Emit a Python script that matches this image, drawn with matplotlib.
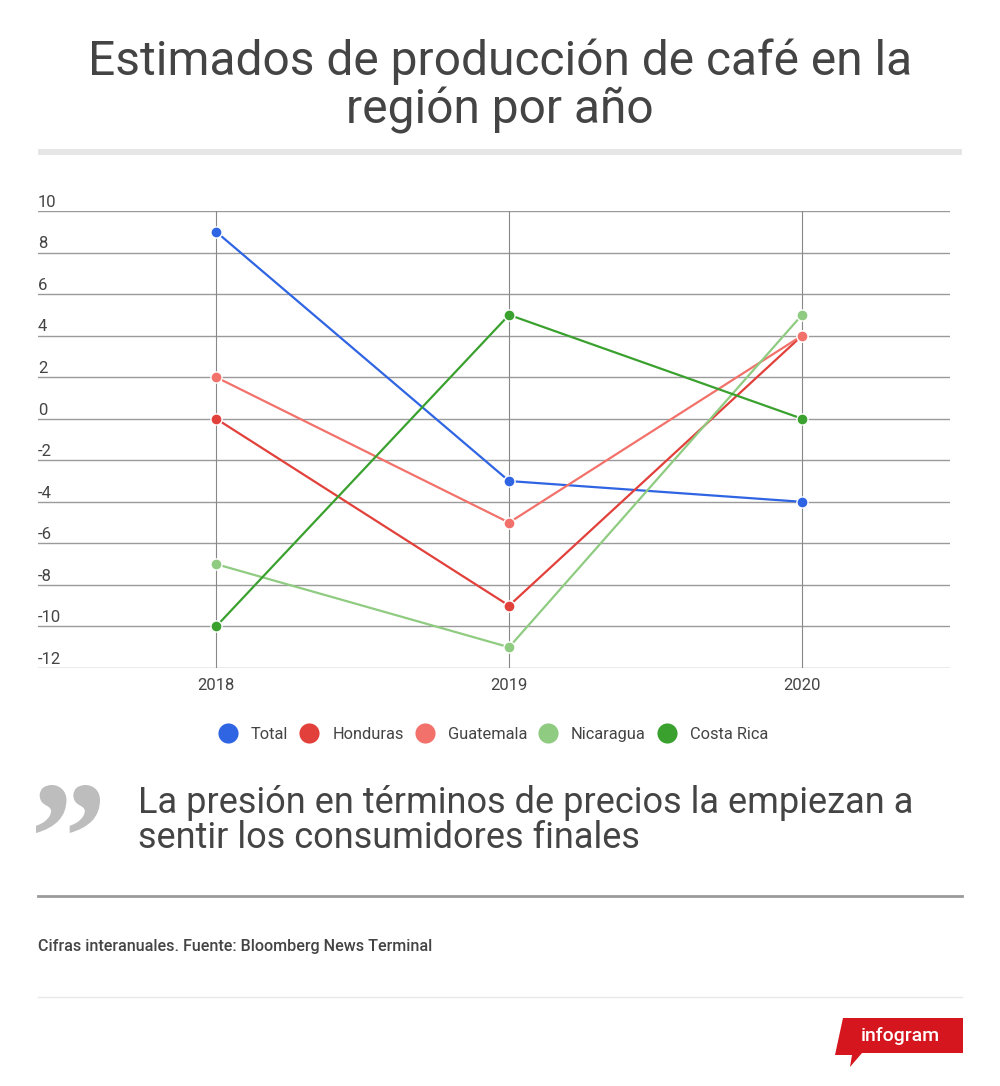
import matplotlib.pyplot as plt
from matplotlib.lines import Line2D
from matplotlib.patches import Polygon, Rectangle, PathPatch
from matplotlib.textpath import TextPath
from matplotlib.font_manager import FontProperties
from matplotlib.transforms import Affine2D

plt.rcParams['font.family'] = ['Roboto', 'DejaVu Sans']

# Data
years = ['2018', '2019', '2020']
total = [9, -3, -4]
honduras = [0, -9, 4]
guatemala = [2, -5, 4]
nicaragua = [-7, -11, 5]
costa_rica = [-10, 5, 0]
y_ticks = [10, 8, 6, 4, 2, 0, -2, -4, -6, -8, -10, -12]

series = [
    ('Total', total, '#2f64e3'),
    ('Honduras', honduras, '#e2403a'),
    ('Guatemala', guatemala, '#f2726b'),
    ('Nicaragua', nicaragua, '#8fcb80'),
    ('Costa Rica', costa_rica, '#3aa12f'),
]

W, H = 1000, 1086
fig = plt.figure(figsize=(W / 100, H / 100), dpi=100)


def fx(x):
    return x / W


def fy(y):
    return 1 - y / H


# Title
fig.text(0.5, fy(62), 'Estimados de producción de café en la', ha='center', va='center',
         fontsize=34.5, color='#444444')
fig.text(0.5, fy(110), 'región por año', ha='center', va='center',
         fontsize=34.5, color='#444444')
fig.add_artist(Rectangle((fx(38), fy(155)), fx(962) - fx(38), 6 / H,
                         transform=fig.transFigure, color='#e6e6e6', lw=0))

# Chart
ax = fig.add_axes([fx(38), fy(668), fx(950) - fx(38), (668 - 211) / H])
x = list(range(len(years)))
for name, vals, col in series:
    ax.plot(x, vals, color=col, lw=1.6, marker='o', markersize=8,
            markeredgecolor='white', markeredgewidth=1.0, zorder=3)

ax.set_xlim(-0.608, 2.505)
ax.set_ylim(-12, 10)
for s in ax.spines.values():
    s.set_visible(False)
for t in y_ticks:
    ax.axhline(t, color='#9a9a9a', lw=1.0, zorder=1)
    ax.text(0, t + 0.2, str(t), transform=ax.get_yaxis_transform(),
            ha='left', va='baseline', fontsize=12, color='#444444')
for xi in x:
    ax.axvline(xi, color='#888888', lw=0.8, zorder=1)
ax.set_yticks([])
ax.set_xticks(x)
ax.set_xticklabels(years, fontsize=12, color='#444444')
ax.tick_params(axis='x', length=0, pad=7)

# Legend (laid out by hand, left to right)
renderer = fig.canvas.get_renderer()
lx = 218
for name, vals, col in series:
    fig.add_artist(Line2D([fx(lx + 10)], [fy(733)], ls='none', marker='o',
                          markersize=14.5, color=col, markeredgewidth=0))
    txt = fig.text(fx(lx + 33), fy(739), name, ha='left', va='baseline',
                   fontsize=11.8, color='#444444')
    w = txt.get_window_extent(renderer).width
    lx = lx + 33 + w + 11

# Quote mark, fitted into its box
qp = TextPath((0, 0), '\u201d', prop=FontProperties(family='Liberation Serif', weight='bold'))
ext = qp.get_extents()
bx0, by0, bx1, by1 = 36, 785, 100, 833
tr = (Affine2D().translate(-ext.x0, -ext.y0)
      .scale((bx1 - bx0) / ext.width, (by1 - by0) / ext.height)
      .translate(bx0, H - by1)
      .scale(1 / W, 1 / H))
fig.add_artist(PathPatch(qp, transform=tr + fig.transFigure, color='#bdbdbd', lw=0))

fig.text(fx(138), fy(803), 'La presión en términos de precios la empiezan a',
         ha='left', va='center', fontsize=26, color='#444444')
fig.text(fx(138), fy(838), 'sentir los consumidores finales',
         ha='left', va='center', fontsize=26, color='#444444')

fig.add_artist(Line2D([fx(38), fx(962)], [fy(896), fy(896)], color='#9a9a9a', lw=2))
fig.text(fx(38), fy(947), 'Cifras interanuales. Fuente: Bloomberg News Terminal',
         ha='left', va='center', fontsize=11.6, color='#444444', fontweight='medium')
fig.add_artist(Line2D([fx(38), fx(962)], [fy(997), fy(997)], color='#e8e8e8', lw=1))

# infogram badge
badge = [(843, 1018), (963, 1018), (963, 1053), (862, 1053), (850, 1067),
         (852, 1055), (835, 1055)]
fig.add_artist(Polygon([(fx(a), fy(b)) for a, b in badge], closed=True,
                       transform=fig.transFigure, color='#d5161e', lw=0))
fig.text(fx(900), fy(1036), 'infogram', ha='center', va='center',
         fontsize=14, color='white', fontweight='medium')

fig.savefig('out.png', dpi=100, facecolor='white')
